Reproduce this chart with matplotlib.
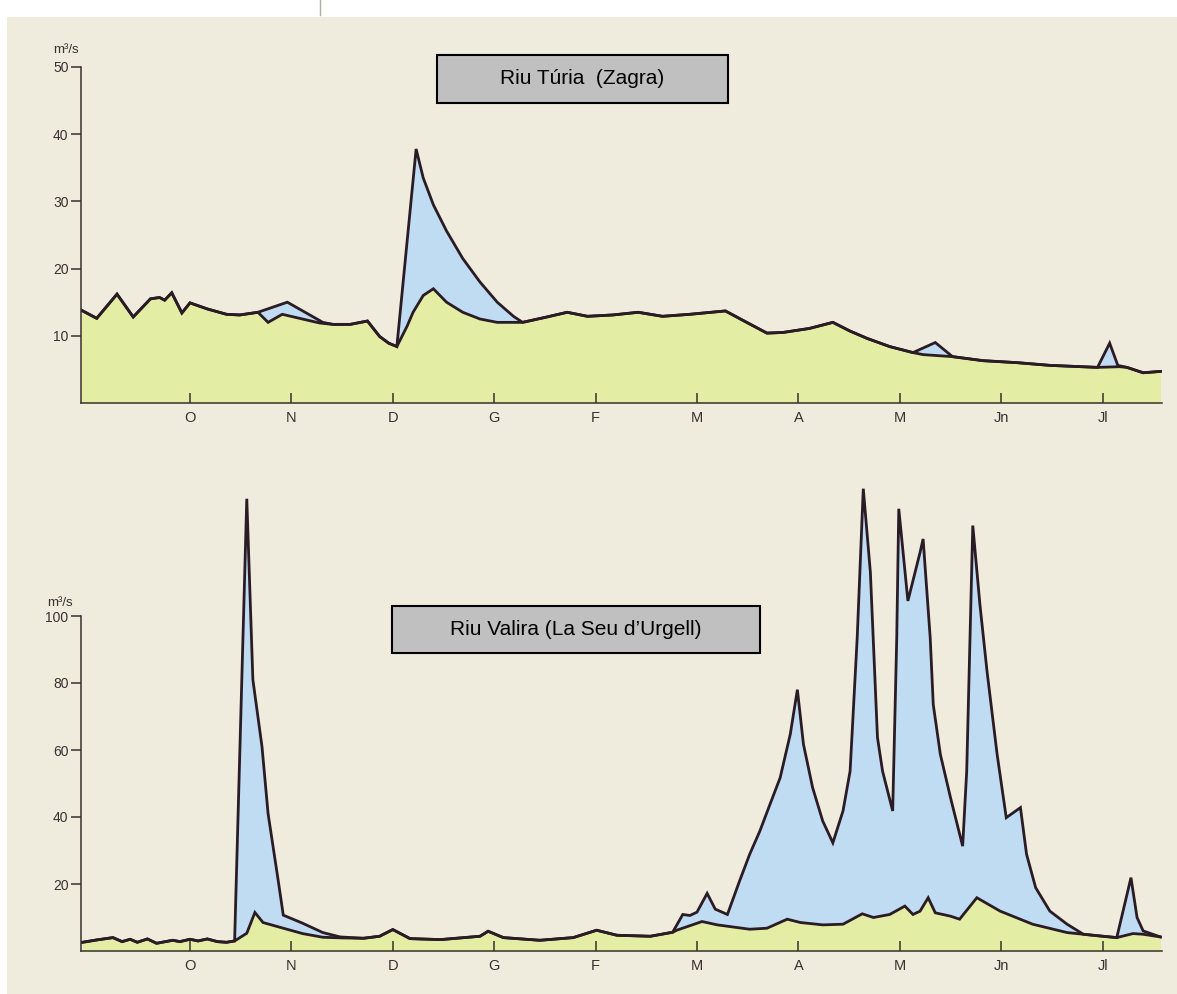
import numpy as np
import matplotlib
matplotlib.use("Agg")
import matplotlib.pyplot as plt
from matplotlib.patches import Rectangle

plt.rcParams['font.family'] = ['Liberation Sans', 'DejaVu Sans']

# month ticks (1 = O ... 10 = Jl)
months = ['O', 'N', 'D', 'G', 'F', 'M', 'A', 'M', 'Jn', 'Jl']
month_pos = [1, 2, 3, 4, 5, 6, 7, 8, 9, 10]

# Riu Túria (Zagra) - total flow
turia_x = [-0.07, 0.08, 0.28, 0.44, 0.61, 0.70, 0.75, 0.82, 0.92, 1.00, 1.17, 1.36, 1.49, 1.67,
           1.96, 2.31, 2.41, 2.58, 2.75, 2.87, 2.96, 3.04, 3.23, 3.30, 3.40, 3.53, 3.69, 3.86,
           4.03, 4.19, 4.28, 4.52, 4.72, 4.92, 5.17, 5.42, 5.66, 5.93, 6.28, 6.49, 6.69, 6.85,
           7.11, 7.34, 7.51, 7.68, 7.90, 8.13, 8.35, 8.52, 8.82, 9.16, 9.48, 9.95, 10.07, 10.15,
           10.24, 10.40, 10.57]
turia_total = [13.8, 12.6, 16.2, 12.8, 15.5, 15.7, 15.3, 16.4, 13.4, 14.9, 14.0, 13.2, 13.1, 13.5,
               15.0, 12.0, 11.7, 11.7, 12.2, 9.9, 8.9, 8.4, 37.8, 33.5, 29.5, 25.6, 21.5, 18.0,
               15.0, 12.9, 12.0, 12.8, 13.5, 12.9, 13.1, 13.5, 12.9, 13.2, 13.7, 12.0, 10.4, 10.5,
               11.1, 12.0, 10.7, 9.6, 8.4, 7.5, 9.0, 6.9, 6.3, 6.0, 5.6, 5.3, 8.9, 5.6,
               5.3, 4.5, 4.7]
# Riu Túria (Zagra) - base flow
turia_base_x = [-0.07, 0.08, 0.28, 0.44, 0.61, 0.70, 0.75, 0.82, 0.92, 1.00, 1.17, 1.36, 1.49, 1.67,
                1.77, 1.91, 2.08, 2.28, 2.41, 2.58, 2.75, 2.87, 2.96, 3.04, 3.14, 3.20, 3.30, 3.40,
                3.53, 3.69, 3.86, 4.03, 4.28, 4.52, 4.72, 4.92, 5.17, 5.42, 5.66, 5.93, 6.28, 6.49,
                6.69, 6.85, 7.11, 7.34, 7.51, 7.68, 7.90, 8.13, 8.23, 8.52, 8.82, 9.16, 9.48, 9.95,
                10.17, 10.24, 10.40, 10.57]
turia_base = [13.8, 12.6, 16.2, 12.8, 15.5, 15.7, 15.3, 16.4, 13.4, 14.9, 14.0, 13.2, 13.1, 13.5,
              12.0, 13.2, 12.6, 11.9, 11.7, 11.7, 12.2, 9.9, 8.9, 8.4, 11.4, 13.5, 16.0, 17.0,
              15.0, 13.5, 12.5, 12.0, 12.0, 12.8, 13.5, 12.9, 13.1, 13.5, 12.9, 13.2, 13.7, 12.0,
              10.4, 10.5, 11.1, 12.0, 10.7, 9.6, 8.4, 7.5, 7.2, 6.9, 6.3, 6.0, 5.6, 5.3,
              5.4, 5.3, 4.5, 4.7]

# Riu Valira (La Seu d'Urgell) - total flow
valira_x = [-0.06, 0.08, 0.24, 0.33, 0.41, 0.48, 0.58, 0.67, 0.83, 0.90, 1.00, 1.08, 1.17, 1.27,
            1.36, 1.44, 1.56, 1.62, 1.71, 1.77, 1.87, 1.92, 2.11, 2.31, 2.48, 2.71, 2.87, 3.00,
            3.17, 3.47, 3.86, 3.94, 4.09, 4.45, 4.78, 5.01, 5.21, 5.54, 5.76, 5.86, 5.93, 6.00,
            6.10, 6.18, 6.30, 6.42, 6.52, 6.62, 6.72, 6.82, 6.92, 6.99, 7.05, 7.14, 7.24, 7.34,
            7.44, 7.51, 7.58, 7.64, 7.71, 7.78, 7.83, 7.93, 7.97, 7.99, 8.08, 8.20, 8.23, 8.30,
            8.33, 8.40, 8.50, 8.62, 8.66, 8.72, 8.79, 8.86, 8.96, 9.05, 9.19, 9.25, 9.34, 9.48,
            9.65, 9.81, 9.97, 10.14, 10.28, 10.34, 10.40, 10.57]
valira_total = [2.6, 3.3, 4.0, 2.8, 3.5, 2.6, 3.6, 2.3, 3.2, 2.8, 3.5, 3.0, 3.6, 2.8,
                2.6, 3.0, 135.0, 81.0, 61.0, 41.0, 21.0, 10.7, 8.3, 5.5, 4.2, 3.8, 4.4, 6.4,
                3.7, 3.4, 4.4, 5.9, 4.0, 3.2, 4.0, 6.2, 4.7, 4.4, 5.6, 10.9, 10.6, 11.6,
                17.2, 12.5, 10.9, 20.9, 28.9, 35.8, 43.8, 51.7, 64.7, 78.0, 61.7, 48.8, 38.8, 32.3,
                41.8, 53.7, 93.5, 138.0, 113.0, 63.7, 53.7, 41.8, 93.5, 132.0, 104.5, 119.0, 123.0, 93.5,
                73.6, 58.7, 45.8, 31.3, 53.7, 127.0, 103.5, 83.6, 58.7, 39.8, 42.8, 28.9, 18.9, 11.9,
                8.0, 5.0, 4.5, 4.0, 21.9, 10.0, 6.0, 4.2]
# Riu Valira (La Seu d'Urgell) - base flow
valira_base_x = [-0.06, 0.08, 0.24, 0.33, 0.41, 0.48, 0.58, 0.67, 0.83, 0.90, 1.00, 1.08, 1.17, 1.27,
                 1.36, 1.44, 1.56, 1.64, 1.72, 1.92, 2.11, 2.31, 2.51, 2.71, 2.87, 3.00, 3.17, 3.47,
                 3.86, 3.94, 4.09, 4.45, 4.78, 5.01, 5.21, 5.54, 5.76, 5.80, 6.05, 6.20, 6.52, 6.69,
                 6.89, 7.02, 7.24, 7.44, 7.63, 7.74, 7.90, 8.05, 8.13, 8.20, 8.28, 8.35, 8.50, 8.59,
                 8.76, 8.99, 9.31, 9.65, 9.81, 9.97, 10.14, 10.30, 10.40, 10.57]
valira_base = [2.6, 3.3, 4.0, 2.8, 3.5, 2.6, 3.6, 2.3, 3.2, 2.8, 3.5, 3.0, 3.6, 2.8,
               2.6, 3.0, 5.3, 11.5, 8.5, 6.8, 5.2, 4.1, 3.9, 3.8, 4.4, 6.4, 3.7, 3.4,
               4.4, 5.9, 4.0, 3.2, 4.0, 6.2, 4.7, 4.4, 5.6, 6.2, 8.8, 7.8, 6.5, 6.8,
               9.5, 8.5, 7.8, 8.0, 11.1, 10.0, 10.9, 13.4, 10.9, 11.9, 15.9, 11.4, 10.4, 9.5,
               15.9, 11.9, 8.0, 5.5, 5.0, 4.5, 4.0, 5.2, 5.0, 4.2]

PAPER = '#efebdd'
BLUE = '#bfdcf3'
GREEN = '#e3eda3'
INK = '#2a1b24'
W, H = 1177, 994


def draw_chart(ax, x_tot, y_tot, x_base, y_base, ymax, yticks, spine_top):
    ax.patch.set_alpha(0)
    ax.fill(np.concatenate([x_tot, x_base[::-1]]), np.concatenate([y_tot, y_base[::-1]]),
            color=BLUE, lw=0)
    ax.fill_between(x_base, y_base, 0, color=GREEN, lw=0)
    for xs, ys in [(x_base, y_base), (x_tot, y_tot)]:
        ax.plot(xs, ys, color=INK, lw=2.0, solid_joinstyle='miter')
    ax.set_xlim(-0.075, 10.586)
    ax.set_ylim(0, ymax)
    for s in ['top', 'right']:
        ax.spines[s].set_visible(False)
    ax.spines['left'].set_bounds(0, spine_top)
    ax.spines['left'].set_color('#3a3030')
    ax.spines['bottom'].set_color('#3a3030')
    ax.spines['left'].set_linewidth(1.1)
    ax.spines['bottom'].set_linewidth(1.1)
    ax.set_yticks(yticks)
    ax.set_yticklabels([str(t) for t in yticks])
    ax.set_xticks(month_pos)
    ax.set_xticklabels(months)
    ax.tick_params(axis='y', direction='out', length=7, width=1.1, pad=2,
                   labelsize=10, colors='#3a3030')
    ax.tick_params(axis='x', direction='in', length=7, width=1.1, pad=6,
                   labelsize=10.5, colors='#3a3030')


fig = plt.figure(figsize=(W / 100, H / 100), dpi=100, facecolor='white')
# paper background (page edge visible at top and left)
fig.patches.append(Rectangle((7 / W, 0), 1, 1 - 17 / H, transform=fig.transFigure,
                             facecolor=PAPER, edgecolor='none', zorder=-10))
fig.lines.append(plt.Line2D([320 / W, 320 / W], [1, 1 - 15 / H], transform=fig.transFigure,
                            color='#b0aca4', lw=1.0))

ax1 = fig.add_axes([81 / W, 1 - 403 / H, 1081 / W, 336 / H])
draw_chart(ax1, np.array(turia_x), np.array(turia_total), np.array(turia_base_x),
           np.array(turia_base), 50, [10, 20, 30, 40, 50], 50)

ax2 = fig.add_axes([81 / W, 1 - 951 / H, 1081 / W, 502.5 / H])
draw_chart(ax2, np.array(valira_x), np.array(valira_total), np.array(valira_base_x),
           np.array(valira_base), 150, [20, 40, 60, 80, 100], 100)

# unit labels
fig.text(66 / W, 1 - 50 / H, 'm³/s', ha='center', va='center', fontsize=9.5, color='#3a3030')
fig.text(60 / W, 1 - 603 / H, 'm³/s', ha='center', va='center', fontsize=9.5, color='#3a3030')

# river name boxes
for (x0, y0, x1, y1), name in [((437, 55, 728, 103), 'Riu Túria  (Zagra)'),
                               ((392, 606, 760, 653), 'Riu Valira (La Seu d’Urgell)')]:
    fig.patches.append(Rectangle((x0 / W, 1 - y1 / H), (x1 - x0) / W, (y1 - y0) / H,
                                 transform=fig.transFigure, facecolor='#c0c0c0',
                                 edgecolor='black', lw=1.5))
    fig.text((x0 + x1) / 2 / W, 1 - (y0 + y1) / 2 / H, name, ha='center', va='center',
             fontsize=15, color='black')

fig.savefig('out.png', dpi=100, facecolor=fig.get_facecolor())
